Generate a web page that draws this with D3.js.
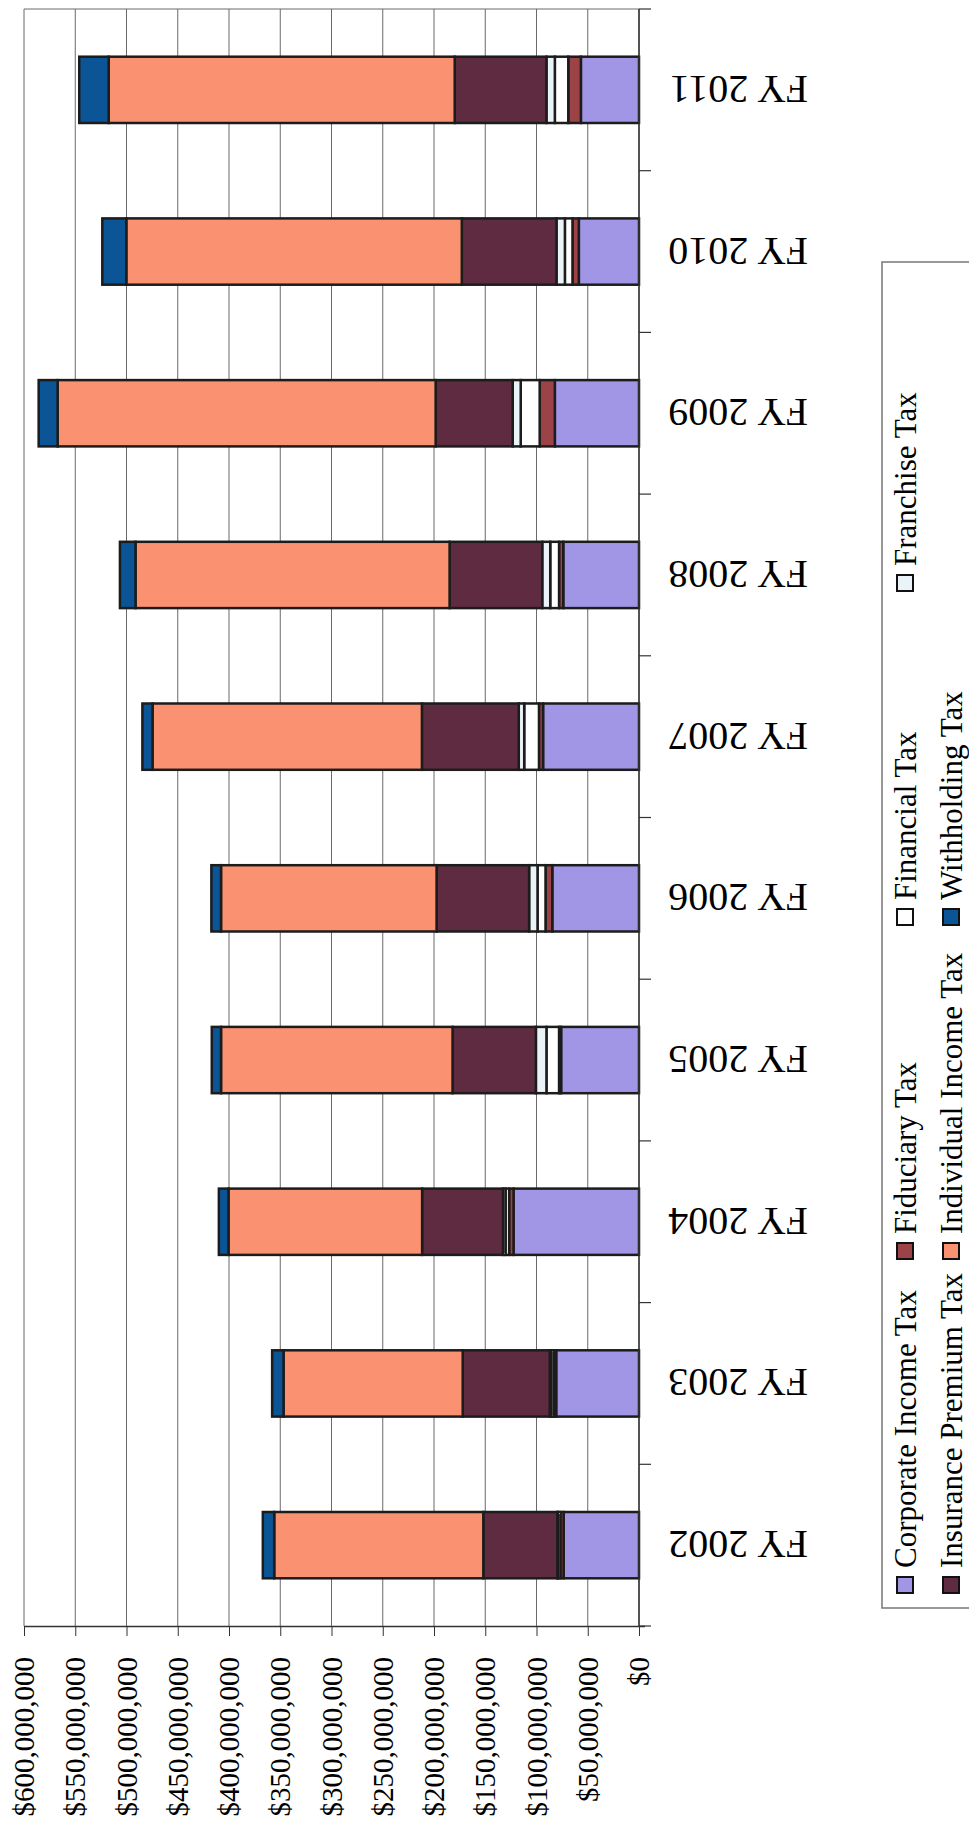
<!DOCTYPE html>
<html>
<head>
<meta charset="utf-8">
<script src="https://cdn.jsdelivr.net/npm/d3@7"></script>
<style>
  html, body { margin: 0; padding: 0; background: #fff; }
  svg { display: block; }
</style>
</head>
<body>
<svg id="chart" width="969" height="1841"></svg>
<script>
// ---- data (values in dollars) ----
const years = ["FY 2002","FY 2003","FY 2004","FY 2005","FY 2006","FY 2007","FY 2008","FY 2009","FY 2010","FY 2011"];
const corporateIncome  = [73.5e6, 80.8e6, 122.4e6, 76.0e6, 84.6e6, 93.6e6, 73.9e6, 82.1e6, 58.7e6, 56.7e6];
const fiduciary        = [3.2e6, 2.5e6, 4.3e6, 2.0e6, 6.6e6, 4.0e6, 4.1e6, 14.8e6, 6.2e6, 12.3e6];
const financial        = [2.5e6, 2.5e6, 3.5e6, 12.3e6, 7.8e6, 14.4e6, 8.6e6, 18.5e6, 7.4e6, 13.1e6];
const franchise        = [0.5e6, 1.2e6, 2.5e6, 10.3e6, 8.2e6, 5.3e6, 7.8e6, 7.8e6, 8.2e6, 8.2e6];
const insurancePremium = [72.2e6, 85.0e6, 78.9e6, 81.3e6, 90.3e6, 94.5e6, 90.4e6, 75.2e6, 92.4e6, 89.5e6];
const individualIncome = [204.0e6, 174.8e6, 188.9e6, 225.9e6, 210.3e6, 262.8e6, 306.4e6, 368.8e6, 327.3e6, 337.6e6];
const withholding      = [11.1e6, 11.1e6, 9.4e6, 9.0e6, 9.4e6, 9.9e6, 15.2e6, 18.5e6, 23.4e6, 28.7e6];

const seriesNames = ["Corporate Income Tax","Fiduciary Tax","Financial Tax","Franchise Tax","Insurance Premium Tax","Individual Income Tax","Withholding Tax"];
const seriesColors = ["#a196e6","#9c4348","#ffffff","#eaf3f7","#5e2b40","#fa9171","#0b5596"];
const tickValues = [0, 50e6, 100e6, 150e6, 200e6, 250e6, 300e6, 350e6, 400e6, 450e6, 500e6, 550e6, 600e6];
const tickLabels = ["$0","$50,000,000","$100,000,000","$150,000,000","$200,000,000","$250,000,000","$300,000,000","$350,000,000","$400,000,000","$450,000,000","$500,000,000","$550,000,000","$600,000,000"];

const FONT = "'Liberation Serif', Tinos, 'Times New Roman', 'DejaVu Serif', serif";

// ---- table for d3.stack ----
const seriesArrays = [corporateIncome, fiduciary, financial, franchise, insurancePremium, individualIncome, withholding];
const table = years.map((y, i) => {
  const row = { year: y };
  seriesNames.forEach((s, k) => row[s] = seriesArrays[k][i]);
  return row;
});
const stacked = d3.stack().keys(seriesNames)(table);

// ---- layout (drawn rotated: values run right-to-left, categories bottom-to-top) ----
const svg = d3.select("#chart");
const plotLeft = 24, plotRight = 639, plotTop = 9, plotBottom = 1626;

const x = d3.scaleLinear().domain([0, 600e6]).range([plotRight, plotLeft]);
const y = d3.scaleBand().domain(years.slice().reverse()).range([plotTop, plotBottom])
  .paddingInner(0.59).paddingOuter(0.295);
const color = d3.scaleOrdinal().domain(seriesNames).range(seriesColors);

// gridlines
svg.append("g").selectAll("line").data(tickValues).join("line")
  .attr("x1", d => x(d)).attr("x2", d => x(d))
  .attr("y1", plotTop).attr("y2", plotBottom)
  .attr("stroke", "#6a6a6a").attr("stroke-width", 1);
svg.append("line").attr("x1", plotLeft).attr("x2", plotRight).attr("y1", plotTop).attr("y2", plotTop)
  .attr("stroke", "#6a6a6a").attr("stroke-width", 1);

// bars
svg.append("g").selectAll("g").data(stacked).join("g")
  .attr("fill", d => color(d.key))
  .selectAll("rect").data(d => d).join("rect")
  .attr("x", d => x(d[1]))
  .attr("width", d => x(d[0]) - x(d[1]))
  .attr("y", d => y(d.data.year))
  .attr("height", y.bandwidth())
  .attr("stroke", "#1c1c1c").attr("stroke-width", 2.5);

// value axis (bottom)
const xAxis = d3.axisBottom(x).tickValues(tickValues).tickSize(10).tickFormat("");
const gx = svg.append("g").attr("transform", `translate(0,${plotBottom})`).call(xAxis);
gx.select(".domain").attr("stroke", "#333").attr("stroke-width", 1.5).attr("d", `M${plotLeft},0.5H${plotRight + 6}`);
gx.selectAll(".tick line").attr("stroke", "#333");
svg.append("g").selectAll("text").data(tickValues).join("text")
  .attr("transform", d => `translate(${x(d)},1657) rotate(-90)`)
  .attr("text-anchor", "end").attr("dy", "0.35em")
  .attr("font-family", FONT).attr("font-size", 29).attr("fill", "#000")
  .text((d, i) => tickLabels[i]);

// category axis (right side, at $0)
const yBounds = d3.range(years.length + 1).map(i => plotTop + i * y.step());
svg.append("line").attr("x1", plotRight).attr("x2", plotRight).attr("y1", plotTop).attr("y2", plotBottom)
  .attr("stroke", "#333").attr("stroke-width", 1.5);
svg.append("g").selectAll("line").data(yBounds).join("line")
  .attr("x1", plotRight).attr("x2", plotRight + 12)
  .attr("y1", d => d).attr("y2", d => d)
  .attr("stroke", "#333").attr("stroke-width", 1.2);
svg.append("g").selectAll("text").data(years).join("text")
  .attr("transform", d => `translate(808,${y(d) + y.bandwidth() / 2}) rotate(180)`)
  .attr("text-anchor", "start").attr("dy", "0.35em")
  .attr("font-family", FONT).attr("font-size", 40).attr("fill", "#000")
  .text(d => d);

// legend (rotated)
svg.append("rect").attr("x", 882).attr("y", 262).attr("width", 200).attr("height", 1346)
  .attr("fill", "none").attr("stroke", "#777").attr("stroke-width", 1.5);
const legendCols = [1585, 1251, 917, 583];
const legendRows = [905, 951];
const legendItems = seriesNames.map((name, i) => ({
  name, col: i < 4 ? i : i - 4, row: i < 4 ? 0 : 1
}));
const lg = svg.append("g").selectAll("g").data(legendItems).join("g")
  .attr("transform", d => `translate(${legendRows[d.row]},${legendCols[d.col]}) rotate(-90)`);
lg.append("rect").attr("x", -8).attr("y", -8).attr("width", 16).attr("height", 16)
  .attr("fill", d => color(d.name)).attr("stroke", "#111").attr("stroke-width", 2);
lg.append("text").attr("x", 17).attr("dy", "0.35em")
  .attr("font-family", FONT).attr("font-size", 31).attr("fill", "#000")
  .text(d => d.name);
</script>
</body>
</html>
